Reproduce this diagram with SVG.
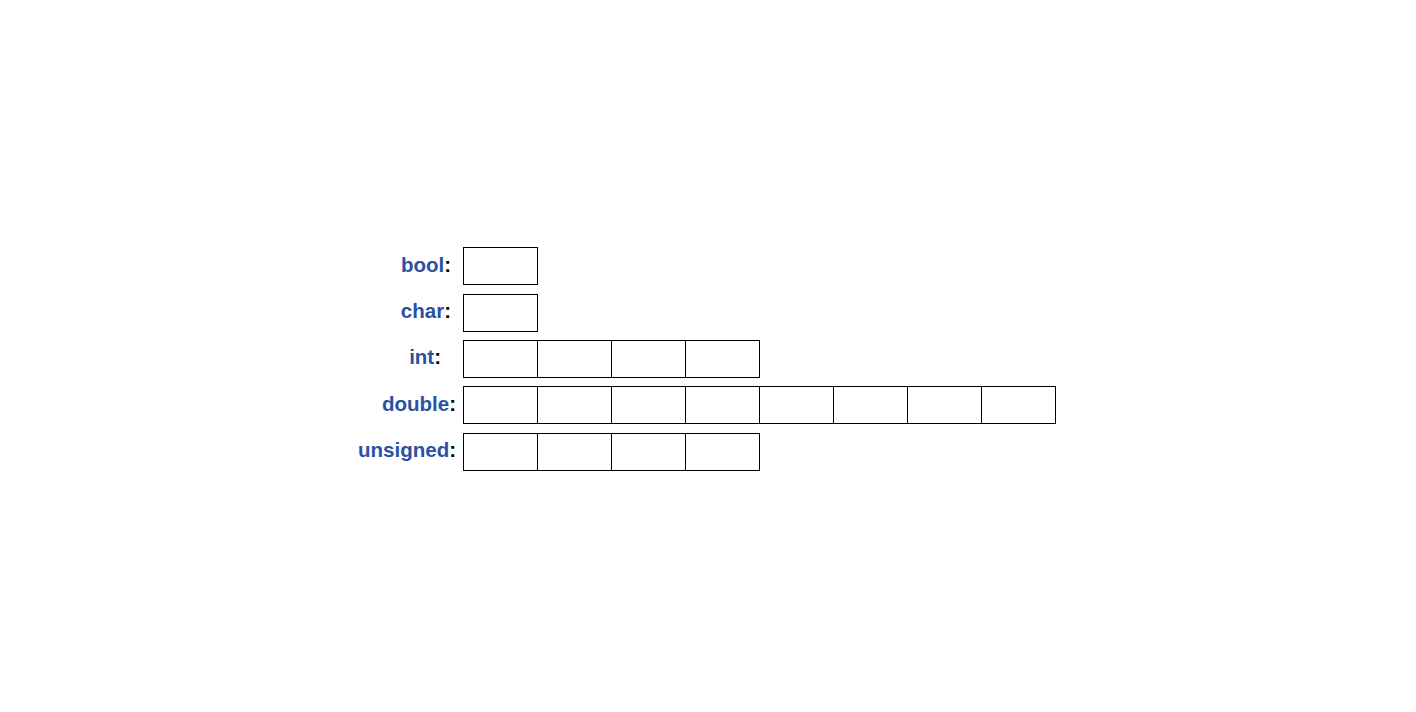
<svg xmlns="http://www.w3.org/2000/svg" width="1416" height="712" viewBox="0 0 1416 712">
<style>
.lbl{font-family:"Liberation Sans",Arial,sans-serif;font-size:20.5px;font-weight:bold;fill:#2a52a3;text-anchor:end}
.col{fill:#000}
.cell{fill:#fff;stroke:#000;stroke-width:1}
</style>
<rect width="1416" height="712" fill="#fff"/>
<defs>
<rect id="c" class="cell" width="74" height="37"/>
</defs>
<g id="bool">
<text class="lbl" x="451" y="272">bool<tspan class="col">:</tspan></text>
<use href="#c" x="463.5" y="247.5"/>
</g>
<g id="char">
<text class="lbl" x="451" y="318">char<tspan class="col">:</tspan></text>
<use href="#c" x="463.5" y="294.5"/>
</g>
<g id="int">
<text class="lbl" x="441" y="364">int<tspan class="col">:</tspan></text>
<use href="#c" x="463.5" y="340.5"/>
<use href="#c" x="537.5" y="340.5"/>
<use href="#c" x="611.5" y="340.5"/>
<use href="#c" x="685.5" y="340.5"/>
</g>
<g id="double">
<text class="lbl" x="456" y="411">double<tspan class="col">:</tspan></text>
<use href="#c" x="463.5" y="386.5"/>
<use href="#c" x="537.5" y="386.5"/>
<use href="#c" x="611.5" y="386.5"/>
<use href="#c" x="685.5" y="386.5"/>
<use href="#c" x="759.5" y="386.5"/>
<use href="#c" x="833.5" y="386.5"/>
<use href="#c" x="907.5" y="386.5"/>
<use href="#c" x="981.5" y="386.5"/>
</g>
<g id="unsigned">
<text class="lbl" x="456" y="457">unsigned<tspan class="col">:</tspan></text>
<use href="#c" x="463.5" y="433.5"/>
<use href="#c" x="537.5" y="433.5"/>
<use href="#c" x="611.5" y="433.5"/>
<use href="#c" x="685.5" y="433.5"/>
</g>
<g id="connectors"/>
</svg>
